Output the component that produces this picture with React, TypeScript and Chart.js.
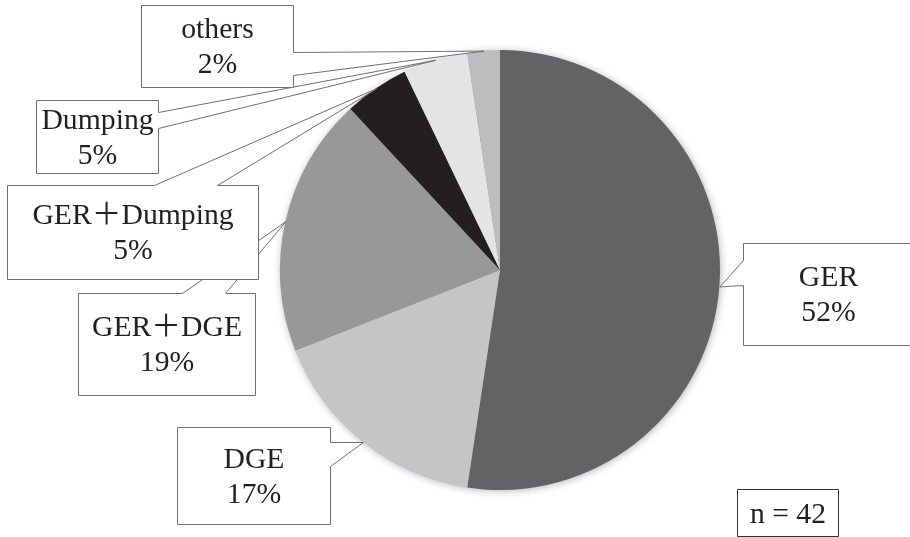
import React, { useEffect, useRef } from "react";
import { Chart, registerables } from "chart.js";
Chart.register(...registerables);

const categories = ["GER", "DGE", "GER＋DGE", "GER＋Dumping", "Dumping", "others"];
const counts = [22, 7, 8, 2, 2, 1];
const colors = ["#636365", "#c4c5c7", "#97989a", "#231f20", "#e3e4e5", "#bcbdbf"];

// callout box layout (pixels), one per category, and where its pointer leaves the box
type Callout = { x: number; y: number; w: number; h: number; side: "left" | "right" | "top"; a: number; b: number };
const callouts: Callout[] = [
  { x: 743, y: 243, w: 170, h: 102, side: "left", a: 260, b: 285 },
  { x: 177, y: 427, w: 153, h: 97, side: "right", a: 442, b: 466 },
  { x: 78, y: 293, w: 177, h: 102, side: "top", a: 182, b: 225 },
  { x: 7, y: 185, w: 251, h: 94, side: "top", a: 154, b: 217 },
  { x: 36, y: 100, w: 122, h: 73, side: "right", a: 112, b: 128 },
  { x: 141, y: 5, w: 152, h: 82, side: "right", a: 52, b: 75 },
];
const nBox = { x: 737, y: 489, w: 101, h: 47 };

const FONT = '29.7px "Liberation Serif", "Times New Roman", "Noto Sans CJK JP", serif';

const shadowPlugin = {
  id: "pieShadow",
  beforeDatasetsDraw(chart: any) {
    const arc = chart.getDatasetMeta(0).data[0];
    if (!arc) return;
    const { x, y, outerRadius } = arc.getProps(["x", "y", "outerRadius"], true);
    const ctx = chart.ctx;
    ctx.save();
    ctx.shadowColor = "rgba(0,0,0,0.35)";
    ctx.shadowBlur = 8;
    ctx.shadowOffsetX = 1;
    ctx.shadowOffsetY = 1;
    ctx.fillStyle = "#888";
    ctx.beginPath();
    ctx.arc(x, y, outerRadius - 1, 0, Math.PI * 2);
    ctx.fill();
    ctx.restore();
  },
};

const calloutPlugin = {
  id: "callouts",
  afterDatasetsDraw(chart: any) {
    const ctx = chart.ctx;
    const meta = chart.getDatasetMeta(0);
    const total = counts.reduce((s, v) => s + v, 0);
    ctx.save();
    ctx.translate(0.5, 0.5);
    ctx.lineWidth = 1;
    callouts.forEach((c, i) => {
      const arc = meta.data[i];
      if (!arc) return;
      const p = arc.getProps(["x", "y", "startAngle", "endAngle", "outerRadius"], true);
      const mid = (p.startAngle + p.endAngle) / 2;
      const tx = p.x + Math.cos(mid) * p.outerRadius;
      const ty = p.y + Math.sin(mid) * p.outerRadius;
      const { x, y, w, h } = c;
      ctx.beginPath();
      if (c.side === "right") {
        ctx.moveTo(x, y);
        ctx.lineTo(x + w, y);
        ctx.lineTo(x + w, c.a);
        ctx.lineTo(tx, ty);
        ctx.lineTo(x + w, c.b);
        ctx.lineTo(x + w, y + h);
        ctx.lineTo(x, y + h);
      } else if (c.side === "left") {
        ctx.moveTo(x, y);
        ctx.lineTo(x + w, y);
        ctx.lineTo(x + w, y + h);
        ctx.lineTo(x, y + h);
        ctx.lineTo(x, c.b);
        ctx.lineTo(tx, ty);
        ctx.lineTo(x, c.a);
      } else {
        ctx.moveTo(x, y);
        ctx.lineTo(c.a, y);
        ctx.lineTo(tx, ty);
        ctx.lineTo(c.b, y);
        ctx.lineTo(x + w, y);
        ctx.lineTo(x + w, y + h);
        ctx.lineTo(x, y + h);
      }
      ctx.closePath();
      ctx.fillStyle = "#ffffff";
      ctx.fill();
      ctx.strokeStyle = "#6f6f6f";
      ctx.stroke();

      const pct = Math.round((counts[i] / total) * 100) + "%";
      ctx.fillStyle = "#231f20";
      ctx.font = FONT;
      ctx.textAlign = "center";
      ctx.textBaseline = "middle";
      const cx = x + w / 2;
      const cy = y + h / 2;
      ctx.fillText(categories[i], cx, cy - 16);
      ctx.fillText(pct, cx, cy + 19);
    });

    ctx.beginPath();
    ctx.rect(nBox.x, nBox.y, nBox.w, nBox.h);
    ctx.fillStyle = "#ffffff";
    ctx.fill();
    ctx.strokeStyle = "#333333";
    ctx.stroke();
    ctx.fillStyle = "#231f20";
    ctx.font = FONT;
    ctx.textAlign = "center";
    ctx.textBaseline = "middle";
    ctx.fillText("n = " + total, nBox.x + nBox.w / 2, nBox.y + nBox.h / 2 + 2);
    ctx.restore();
  },
};

export default function App() {
  const ref = useRef<HTMLCanvasElement | null>(null);
  useEffect(() => {
    if (!ref.current) return;
    const chart = new Chart(ref.current, {
      type: "pie",
      data: {
        labels: categories,
        datasets: [
          {
            data: counts,
            backgroundColor: colors,
            borderWidth: 0,
          },
        ],
      },
      options: {
        animation: false,
        responsive: true,
        maintainAspectRatio: false,
        events: [],
        layout: { padding: { left: 280, right: 190, top: 50, bottom: 47 } },
        plugins: {
          legend: { display: false },
          tooltip: { enabled: false },
        },
      },
      plugins: [shadowPlugin, calloutPlugin],
    });
    return () => chart.destroy();
  }, []);
  return (
    <div style={{ position: "absolute", left: 0, top: 0, width: 910, height: 537, background: "#fff" }}>
      <canvas ref={ref} />
    </div>
  );
}
